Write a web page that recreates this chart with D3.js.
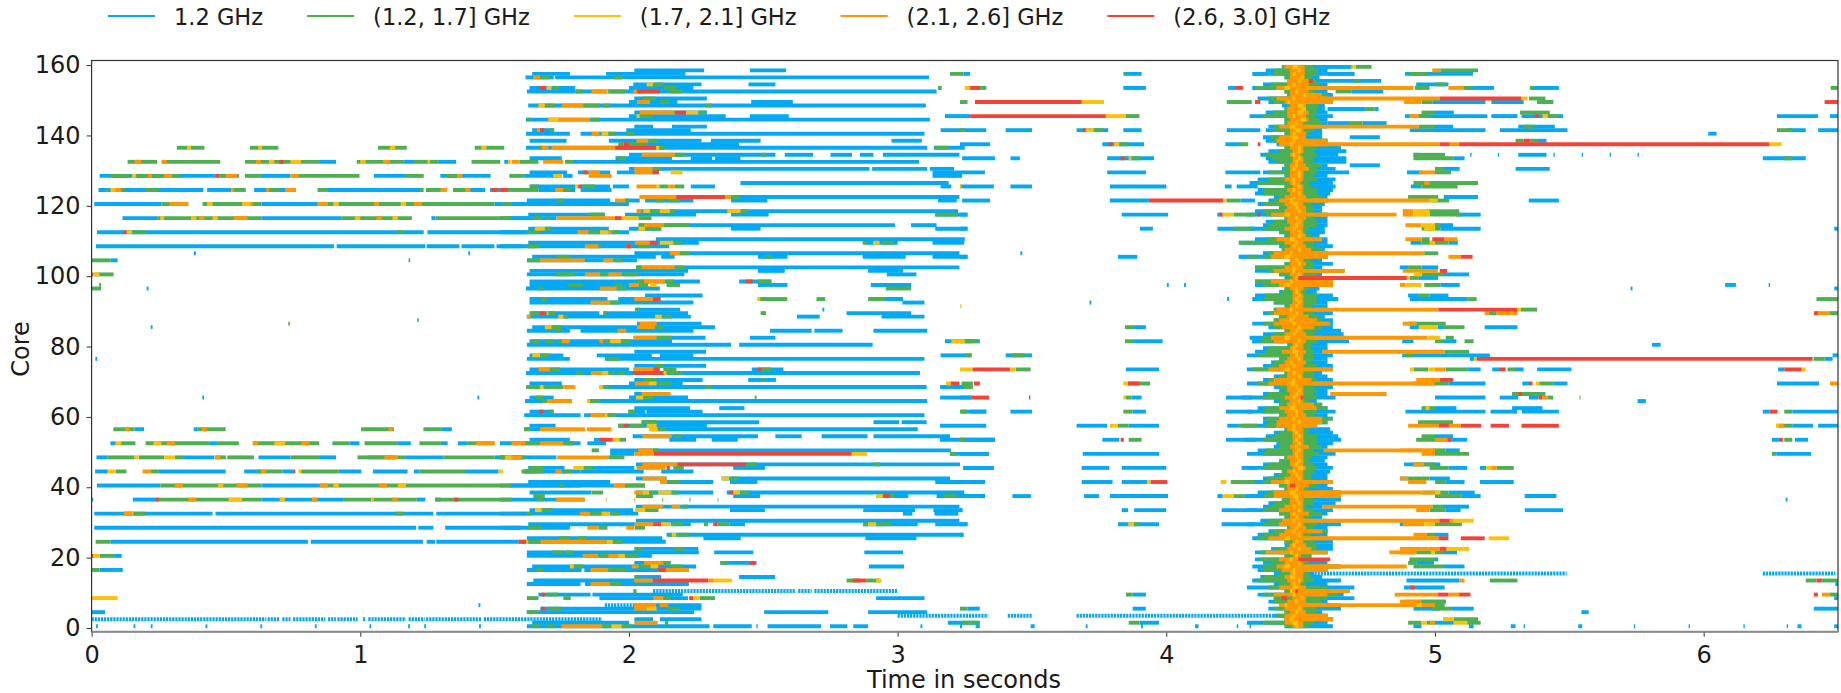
<!DOCTYPE html>
<html>
<head>
<meta charset="utf-8">
<script src="https://cdnjs.cloudflare.com/ajax/libs/d3/7.8.5/d3.min.js"></script>
<style>
  html, body { margin: 0; background: #fff; }
  text { font-family: "DejaVu Sans", sans-serif; fill: #1a1a1a; }
</style>
</head>
<body>
<div id="chart"></div>
<script>
var legendLabels = ["1.2 GHz", "(1.2, 1.7] GHz", "(1.7, 2.1] GHz", "(2.1, 2.6] GHz", "(2.6, 3.0] GHz"],
    bandColors = ["#03A9F4", "#4CAF50", "#FFC107", "#FF9800", "#F44336"],
    xTicks = [0, 1, 2, 3, 4, 5, 6],
    yTicks = [0, 20, 40, 60, 80, 100, 120, 140, 160];

// every span is [core, start second, end second]
var blueSpans = [
  [132,.85,.91],[132,1.16,1.2],[132,1.29,1.357],[132,1.536,1.558],
  [128,.03,.46],[128,.63,.74],[128,1.051,1.17],[128,1.298,1.485],[128,1.61,1.75],[128,1.755,1.79],
  [124,.026,.416],[124,.43,.52],[124,.605,.76],[124,.88,1.235],[124,1.245,1.26],[124,1.345,1.465],[124,1.483,1.52],
  [120,.01,.261],[120,.633,.846],[120,1.5,1.6],
  [116,.115,.244],[116,.633,.931],[116,1.265,1.28],[116,1.55,1.63],
  [112,.02,1.236],[112,1.25,1.62],
  [108,.016,.902],[108,.912,1.242],[108,1.247,1.369],[108,1.377,1.499],[108,1.507,1.6],
  [104,.07,.097],[28,1.316,1.6],[24,.07,.805],[24,.816,1.233],[24,1.247,1.278],[24,1.283,1.59],
  [106,.381,.388],[106,1.402,1.409],[96,.205,.212],[85,.22,.227],[76,.014,.021],[65,.412,.419],[65,1.436,1.443],[6,1.44,1.447],
  [56,.16,.195],[56,.38,.395],[56,1.3,1.341],
  [52,.07,.09],[52,.44,.47],[52,.96,.997],[52,1.14,1.188],[52,1.3,1.325],[52,1.363,1.4],
  [48,.018,.06],[48,.34,.457],[48,.621,.74],[48,.85,.91],[48,1.09,1.125],[48,1.17,1.31],[48,1.5,1.55],[48,1.6,1.65],
  [44,.013,.06],[44,.25,.499],[44,.568,.63],[44,.71,.75],[44,.92,1.004],[44,1.047,1.176],[44,1.2,1.22],[44,1.39,1.515],
  [40,.02,.256],[40,.633,.846],[40,1.55,1.82],
  [36,.153,.24],[36,0,.006],[36,.633,.936],[36,1.21,1.242],[36,1.279,1.3],[36,1.55,1.836],
  [32,.01,.45],[32,.461,1.272],[32,1.283,1.62],
  [28,.01,1.208],[28,1.216,1.272],
  [20,.08,.112],[16,.03,.116],[4,0,.05],
  [0,.016,.023],[0,.156,.163],[0,.22,.227],[0,.424,.431],[0,.628,.635],[0,.831,.838],[0,1.034,1.041],[0,1.178,1.185],[0,1.238,1.245],[0,1.442,1.449],
  [158,2.02,2.28],[158,2.45,2.585],[157,1.64,1.78],[157,1.915,2.21],[156,1.615,1.72],[156,1.725,3.117],
  [154,2.016,2.27],[154,2.445,2.545],[153,1.63,1.8],[153,2,2.24],[152,1.62,1.8],[152,1.8,3.145],
  [150,2.02,2.29],[149,2,2.18],[149,2.455,2.61],[148,1.625,3.105],[146,2.02,2.29],[145,2,2.36],[145,2.45,2.595],[144,1.617,3.12],
  [142,2.02,2.09],[142,2.16,2.29],[141,1.64,1.72],[141,1.99,2.23],[140,1.617,1.78],[140,1.82,3.1],
  [138,1.63,1.768],[138,1.925,2.27],[138,2.305,2.49],[138,2.977,3.09],[137,1.99,2.41],[136,1.617,3.11],[136,3.135,3.25],
  [134,2,2.545],[134,2.58,2.685],[134,2.75,2.83],[134,2.86,2.91],[134,2.945,3.23],[133,1.63,1.75],[133,1.95,2.16],[133,2.23,2.31],[133,2.32,2.415],[133,3.24,3.362],
  [132,1.79,3.08],[130,2,2.895],[130,2.905,3.11],[130,3.12,3.21],[129,1.63,1.77],[129,1.81,1.93],[129,1.955,2.1],[129,3.13,3.325],[128,3.13,3.24],
  [126,2.415,3.19],[125,1.63,1.8],[125,1.82,1.93],[125,1.94,2],[125,2.23,2.32],[125,3.16,3.2],[125,3.24,3.358],[124,1.663,1.8],[124,1.82,1.935],
  [122,2.04,3.23],[121,1.62,1.93],[121,1.985,2.04],[121,2.06,2.24],[121,2.38,2.515],[121,3.15,3.22],[121,3.24,3.344],[120,1.56,2],
  [118,2.03,3.225],[117,1.985,2.25],[117,1.625,1.91],[117,2.38,2.52],[117,3.14,3.26],[116,1.56,1.73],[114,2.04,2.99],[114,3.05,3.145],
  [113,1.625,1.925],[113,2,2.12],[113,2.38,2.49],[113,3.14,3.26],[112,1.52,2],[110,2.1,3.25],[109,1.625,2.26],[109,2.878,3],[109,3.13,3.247],[108,1.52,2.15],
  [106,2.02,3.23],[105,1.64,2.1],[105,2.12,2.17],[105,2.48,2.59],[105,2.87,3.03],[105,3.13,3.26],[104,1.62,2.03],
  [102,2.03,3.23],[101,1.63,2.22],[101,2.48,2.58],[101,2.89,3.02],[100,1.62,2.206],[100,2.96,3.07],[98,1.63,2.264],[98,2.41,2.53],[97,1.63,2],[97,2.48,2.59],[97,2.9,3.05],[96,1.617,2.115],
  [94,2.06,2.274],[93,1.63,1.92],[93,1.96,2.1],[93,2.895,3.02],[92,1.63,2.24],[92,3.018,3.1],[90,2.03,2.19],[90,2.72,2.727],[89,1.64,1.89],[89,1.905,2.22],[89,2.81,3.05],
  [88,1.62,2.23],[88,2.625,2.71],[88,2.94,3.1],[86,2.03,2.27],[85,1.64,2.32],[84,1.62,1.78],[84,1.82,2.24],[84,2.525,2.68],[84,2.69,2.795],[84,2.91,3.11],[82,2.02,2.285],[82,2.45,2.545],
  [81,1.63,2.16],[81,3.176,3.306],[80,1.62,2.38],[80,2.41,2.907],[78,2.02,2.287],[77,1.63,1.756],[77,1.88,2.085],[77,2.115,2.24],[77,3.16,3.275],[76,1.62,1.78],[76,1.91,3.1],
  [74,2.02,2.287],[73,1.63,2],[73,2.457,2.575],[72,1.617,3.083],[70,2.02,2.274],[70,2.444,2.547],[69,1.63,1.75],[69,2,2.2],[68,1.89,3.108],[68,3.158,3.26],
  [66,2.02,2.15],[65,1.63,1.72],[65,2,2.22],[65,3.158,3.275],[64,1.613,1.787],[64,1.845,3.11],[62,2.02,2.227],[62,2.336,2.43],[61,1.63,1.72],[61,2,2.06],[61,2.065,2.274],[61,3.236,3.33],[60,1.61,1.82],[60,1.833,3.1],
  [58,2.047,2.485],[58,2.91,3.005],[58,3.015,3.108],[57,1.63,1.727],[57,1.96,2.29],[57,3.158,3.33],[56,1.61,1.68],[56,2.08,3.075],[54,2.014,2.48],[54,2.545,2.643],[54,2.717,2.888],[54,2.91,3.195],
  [53,1.63,1.78],[53,1.87,1.917],[53,2.15,2.25],[53,2.308,2.405],[53,3.158,3.362],[52,1.52,1.82],[52,1.845,1.915],[50,1.93,3.198],[49,1.93,2.02],[49,3.195,3.34],[48,1.65,1.73],[48,1.52,1.6],
  [46,2.026,3.232],[45,1.625,1.76],[45,1.86,2.02],[45,2.388,2.506],[45,3.245,3.358],[44,1.61,1.82],[44,1.82,2.055],[44,2.12,2.24],[42,2.026,2.14],[42,2.345,3.195],[41,1.625,1.93],[41,2.14,2.314],[41,2.376,2.478],[41,3.14,3.325],[40,1.56,2.06],
  [38,1.63,1.86],[38,2.026,2.314],[38,2.364,3.248],[37,2.388,2.488],[37,2.92,3.04],[37,3.145,3.325],[34,2.026,3.23],[33,1.63,2.016],[33,2.376,2.506],[33,2.872,3.065],[33,3.133,3.24],[32,1.52,2.035],[32,3.02,3.055],[32,3.137,3.226],
  [30,2.026,3.23],[29,1.625,2.022],[29,2.165,2.23],[29,2.375,2.432],[29,2.872,3.075],[29,3.14,3.26],[28,1.52,1.78],[26,2.14,3.245],[25,1.62,2.124],[25,2.277,2.416],[25,2.88,3.07],[24,1.59,2.137],
  [22,2.02,2.258],[21,1.62,2.26],[21,2.317,2.463],[21,2.876,3.02],[20,1.62,2.085],[18,2.02,2.155],[18,2.34,2.475],[17,1.64,2.25],[17,2.893,3.024],[16,1.62,1.824],[16,1.834,2.223],
  [14,2.02,2.12],[14,2.41,2.544],[13,1.644,2.02],[12,1.62,1.82],[12,1.836,2.223],[9,1.663,1.857],[9,1.864,2.2],[8,1.89,2.22],[8,2.92,3.1],[6,2.02,2.27],[5,1.67,2.27],[4,1.62,2.243],[4,2.503,2.742],[4,2.89,3.11],
  [2,2.02,2.09],[2,2.115,2.27],[1,1.64,2],[1,3.187,3.306],[0,1.62,2.3],[0,2.314,2.457],[0,2.474,2.479],[0,2.516,2.715],[0,2.748,2.813],[0,2.835,2.89],[0,3.085,3.092],[0,3.232,3.24],[0,3.29,3.306],[0,3.495,3.51],[0,3.7,3.707],[0,3.906,3.913],[0,4.107,4.12],[0,4.262,4.268],[0,4.31,4.316],
  [157,3.245,3.27],[157,3.85,3.908],[157,4.324,4.373],[153,3.84,3.924],[153,4.23,4.256],[145,3.176,3.27],[141,3.16,3.33],[141,3.402,3.5],[141,3.666,3.784],[141,3.84,3.908],[141,4.225,4.35],
  [137,3.232,3.344],[137,3.762,3.917],[137,4.22,4.28],[133,3.42,3.455],[133,3.78,3.954],[129,3.78,3.924],[129,4.22,4.35],[125,3.42,3.5],[125,3.79,4],[125,4.218,4.243],[125,4.262,4.34],
  [121,3.79,3.935],[121,4.276,4.33],[117,3.232,3.26],[117,3.834,4.007],[117,4.19,4.206],[113,3.232,3.26],[113,3.902,3.95],[113,4.19,4.33],[105,3.232,3.26],[105,3.82,3.892],[105,4.27,4.34],
  [106,3.457,3.464],[97,4.002,4.009],[97,4.066,4.073],[93,4.226,4.233],[92,3.714,3.721],[85,3.88,3.924],[81,3.88,3.986],[81,4.32,4.35],
  [77,3.402,3.5],[73,3.85,3.973],[65,3.232,3.275],[65,3.87,3.908],[65,4.222,4.318],[61,3.27,3.33],[61,3.42,3.5],[61,3.875,3.924],[61,4.222,4.32],[57,3.666,3.78],[57,3.86,3.973],[57,4.227,4.27],
  [53,3.232,3.362],[53,3.762,3.825],[53,4.222,4.33],[49,3.232,3.34],[49,3.689,3.973],[45,3.244,3.358],[45,3.685,3.788],[45,3.834,4],[45,4.28,4.34],[41,3.232,3.325],[41,3.685,3.8],[41,3.834,3.93],
  [37,3.232,3.325],[37,3.427,3.496],[37,3.694,3.75],[37,3.79,4.007],[37,4.19,4.21],[37,4.29,4.34],[33,3.232,3.242],[33,3.834,3.858],[33,3.88,4],[33,4.206,4.34],[29,3.232,3.26],[29,3.82,3.973],[29,4.206,4.33],[26,3.232,3.245],
  [5,3.26,3.306],[5,3.875,3.924],[9,3.875,3.924],[1,3.9,3.973],
  [159,4.55,4.69],[157,4.6,4.7],[155,4.62,4.8],[152,4.69,4.807],[147,4.6,4.74],[147,4.775,4.79],[143,4.6,4.68],[143,4.73,4.82],[139,4.683,4.795],[131,4.683,4.795],
  [157,4.888,5.142],[154,4.93,5.05],[153,5.117,5.22],[153,5.36,5.461],[149,4.99,5.188],[149,5.21,5.33],[149,5.4,5.44],[146,5,5.07],[145,4.888,5.195],[145,5.21,5.307],[145,5.322,5.477],[145,6.273,6.426],[145,6.47,6.5],
  [142,5,5.067],[142,5.31,5.446],[141,4.906,5.188],[141,5.241,5.493],[141,6.31,6.38],[141,6.426,6.5],[140,6.017,6.048],[138,5.38,5.415],[134,4.92,4.94],[134,5.131,5.136],[134,5.234,5.239],[134,5.441,5.446],[134,5.546,5.551],[134,5.65,5.655],[134,5.754,5.759],[134,5.31,5.415],
  [133,5.07,5.11],[133,6.22,6.38],[130,5.03,5.092],[130,5.3,5.427],[129,4.896,4.95],[125,4.91,4.95],[122,5.033,5.16],[121,5.349,5.461],[117,5.08,5.17],[114,5,5.067],[113,5.02,5.17],[113,6.486,6.5],[109,4.909,4.95],[109,5.05,5.085],
  [102,4.869,4.9],[102,4.95,5.012],[100,5.03,5.127],[99,4.94,5.012],[97,5.02,5.092],[97,6.08,6.12],[97,6.242,6.247],[96,5.728,5.735],[96,6.486,6.5],[94,4.9,4.94],[94,4.98,5.05],[93,4.906,5.12],[86,4.9,4.93],[85,4.906,4.94],[85,5.01,5.03],[85,5.185,5.307],[81,4.878,4.92],[81,5.03,5.08],[80,5.808,5.84],
  [77,4.878,5.204],[76,5.13,5.145],[76,6.45,6.48],[77,6.48,6.5],[73,5.12,5.17],[73,5.213,5.238],[73,5.3,5.33],[73,5.38,5.508],[73,6.277,6.3],[69,5.05,5.188],[69,5.325,5.35],[69,5.44,5.493],[69,6.273,6.43],[65,5,5.188],[65,5.241,5.31],[65,5.35,5.385],[64,5.754,5.785],[62,5,5.08],[62,5.287,5.4],
  [61,4.89,5.188],[61,5.207,5.306],[61,5.323,5.461],[61,6.22,6.245],[61,6.33,6.5],[57,6.33,6.407],[57,6.426,6.5],[54,5,5.067],[53,5.06,5.12],[53,6.254,6.28],[53,6.34,6.389],[50,5.04,5.092],[49,6.27,6.4],[46,4.885,5.02],[45,5.167,5.19],
  [45,5.05,5.12],[42,4.869,4.9],[42,4.98,5.055],[41,5.04,5.11],[41,5.167,5.293],[38,5.05,5.148],[37,5.1,5.17],[37,5.334,5.452],[36,6.305,6.312],[34,5.03,5.127],[33,5.04,5.095],[33,5.334,5.477],[29,4.869,4.9],[26,5,5.05],
  [21,5.03,5.082],[19,5,5.012],[18,4.93,4.996],[17,5.03,5.11],[13,4.894,5.09],[12,6.49,6.5],[11,4.885,5.036],[8,6.486,6.5],[7,4.885,5.04],[5,4.92,5.02],[5,5.06,5.144],[5,6.41,6.5],[4,5.545,5.572],[1,5.0,5.07],
  [0,4.92,4.95],[0,5.126,5.144],[0,5.282,5.3],[0,5.33,5.335],[0,5.533,5.548],[0,5.74,5.745],[0,5.944,5.949],[0,6.148,6.153],[0,6.309,6.314],[0,6.349,6.364],[0,6.486,6.5]
];

var greenSpans = [
  [136,.317,.42],[136,.589,.695],[136,1.066,1.173],[136,1.426,1.536],
  [132,.134,.244],[132,.261,.479],[132,.571,.85],[132,.987,1.16],[132,1.2,1.29],[132,1.414,1.521],[132,1.594,1.663],[132,1.762,1.793],
  [128,.07,.14],[128,.165,.21],[128,.225,.27],[128,.3,.33],[128,.475,.548],[128,.571,.63],[128,.75,.997],[128,1.17,1.236],[128,1.32,1.36],[128,1.555,1.61],
  [124,.05,.06],[124,.11,.125],[124,.2,.25],[124,.53,.574],[124,.66,.70],[124,.841,.88],[124,1.22,1.235],[124,1.245,1.3],[124,1.345,1.39],[124,1.547,1.663],[124,1.756,1.784],
  [120,.261,.36],[120,.413,.633],[120,.846,1.5],[116,.244,.633],[116,.931,1.192],[116,1.28,1.55],[112,.15,.2],[112,1.137,1.16],[108,1.62,1.65],
  [104,0,.07],[100,.012,.082],[96,0,.035],[97,.028,.035],[104,1.18,1.186],[86,.732,.738],[87,1.212,1.218],
  [56,.081,.16],[56,.395,.499],[56,1.003,1.125],[56,1.235,1.3],[52,.11,.163],[52,.201,.44],[52,.47,.548],[52,.6,.847],[52,.896,.96],[52,1.016,1.14],[52,1.22,1.3],[52,1.4,1.5],
  [48,.06,.16],[48,.175,.27],[48,.31,.34],[48,.46,.5],[48,.505,.604],[48,.74,.85],[48,.99,1.09],[48,1.03,1.17],[48,1.31,1.5],[48,1.55,1.6],
  [44,.09,.13],[44,.22,.25],[44,.62,.71],[44,.78,.92],[44,1.22,1.39],[44,1.6,1.65],
  [40,.256,.633],[40,.846,1.55],[36,.24,.633],[36,.936,1.21],[36,1.279,1.55],[32,.12,.2],[32,1.13,1.16],[24,.015,.07],[20,.03,.08],[16,0,.03],
  [156,1.669,1.706],[156,1.944,1.976],[153,1.718,1.741],[153,2.128,2.177],[152,1.803,1.828],[152,1.923,1.985],[152,2.15,2.2],[154,2.093,2.128],[150,2.05,2.1],[149,2.115,2.152],
  [148,1.687,1.725],[148,1.83,1.892],[148,1.904,1.929],[148,2.286,2.309],[146,2.26,2.285],[145,2.04,2.09],[144,1.62,1.632],[144,1.857,1.892],[141,1.706,1.722],[140,1.923,1.948],[140,1.99,2.02],
  [138,2.078,2.107],[137,1.96,1.98],[137,2,2.066],[136,1.663,1.675],[136,2.113,2.134],[134,2.171,2.208],[134,2.493,2.508],[133,1.956,1.989],[130,2.09,2.12],
  [125,1.632,1.663],[125,1.828,1.873],[125,2.113,2.146],[125,2.171,2.206],[122,2.38,2.413],[121,1.731,1.756],[121,1.985,2.0],[121,2.1,2.13],[121,2.146,2.19],[120,1.53,1.563],
  [118,2.078,2.115],[118,2.152,2.171],[118,2.415,2.44],[117,1.855,1.91],[117,3.14,3.225],[116,1.52,1.563],[116,1.644,1.675],[116,1.694,1.706],[116,2.035,2.084],[114,2.035,2.054],[114,2.13,2.227],
  [113,1.687,1.712],[113,2.06,2.12],[112,1.625,1.67],[112,1.85,1.892],[112,1.935,1.966],[109,2.165,2.2],[109,2.87,2.89],[109,2.94,2.987],[108,1.625,1.67],[108,1.85,1.9],[108,2.035,2.078],
  [106,2.19,2.227],[105,1.731,1.78],[105,2.506,2.53],[104,1.622,1.67],[104,1.948,1.978],[102,2.026,2.047],[102,2.171,2.208],[100,1.725,1.8],[100,1.892,1.923],[100,1.98,2.035],
  [98,2.028,2.053],[98,2.14,2.165],[98,2.481,2.53],[97,1.774,1.83],[97,1.948,1.973],[97,2.035,2.072],[97,2.14,2.19],[96,1.663,1.681],[96,1.955,1.99],[96,2.956,3.05],
  [93,1.675,1.694],[93,2.48,2.589],[93,2.698,2.73],[93,2.89,2.953],[92,1.93,1.966],[90,2.022,2.04],[89,1.63,1.663],[89,1.694,1.725],[89,1.905,1.917],[89,2.49,2.51],
  [88,1.756,1.774],[88,2.128,2.16],[85,1.712,1.75],[85,2.103,2.128],[84,1.725,1.75],[82,2.103,2.16],[81,1.638,1.669],[81,1.687,1.718],[81,1.737,1.75],[81,1.91,1.93],[81,1.97,2.005],[81,3.25,3.3],
  [77,1.669,1.706],[76,1.914,1.966],[74,2.097,2.128],[73,1.706,1.743],[73,2.128,2.177],[73,2.493,2.53],[72,1.8,1.83],[72,1.923,1.948],[72,1.96,1.985],[72,2.14,2.2],[70,2.053,2.103],[70,2.493,2.506],
  [69,2.11,2.16],[68,1.617,1.669],[68,1.681,1.756],[68,1.91,1.926],[68,2.286,2.309],[68,3.244,3.28],[65,1.654,1.681],[65,2.053,2.09],[65,2.468,2.475],[64,1.675,1.696],[64,1.855,1.892],
  [61,1.702,1.718],[61,1.997,2.022],[60,1.92,1.954],[58,2.047,2.103],[57,1.96,1.981],[57,2.004,2.053],[56,1.61,1.632],[56,2.107,2.134],[54,2.171,2.196],[53,1.964,1.989],[53,3.232,3.25],
  [52,1.613,1.669],[52,1.768,1.793],[52,1.75,1.793],[50,1.861,1.888],[50,2.09,2.11],[49,3.194,3.218],[48,1.52,1.539],[48,1.563,1.613],[48,1.923,1.983],
  [46,2.43,2.476],[46,2.911,2.936],[45,1.83,1.867],[45,2.165,2.204],[45,1.63,1.68],[44,1.607,1.681],[44,1.756,1.787],[42,2.38,2.407],[41,2.14,2.19],[40,1.52,1.563],[40,1.743,1.756],[40,1.985,2.06],
  [38,1.861,1.904],[38,2.078,2.103],[38,2.158,2.184],[38,2.413,2.447],[37,1.644,1.687],[37,2.026,2.09],[37,2.96,2.99],[37,3.17,3.22],[36,1.52,1.563],[36,1.663,1.681],[36,2.123,2.126],[36,2.225,2.229],[36,2.33,2.333],
  [34,2.196,2.22],[33,1.675,1.712],[33,2.06,2.11],[32,1.62,1.638],[32,1.855,1.898],[32,1.936,1.964],[29,2.155,2.202],[29,2.279,2.295],[29,2.33,2.375],[29,2.872,2.89],[29,2.92,2.977],
  [28,1.625,1.675],[28,1.886,1.92],[28,2.022,2.06],[26,2.152,2.16],[26,2.175,2.224],[25,1.74,1.78],[25,1.81,1.843],[24,1.625,1.671],[24,1.94,1.976],[22,2.022,2.047],[22,2.17,2.205],[21,1.716,1.756],[21,1.766,1.793],
  [20,1.89,1.923],[20,1.99,2.035],[18,2.13,2.155],[18,2.34,2.367],[17,1.795,1.83],[17,2.035,2.078],[17,2.158,2.196],[16,1.656,1.681],[16,1.923,1.99],[14,2.022,2.03],[13,2.02,2.03],[13,2.81,2.86],[13,2.884,2.934],[12,1.93,1.97],
  [10,2.016,2.028],[9,1.694,1.737],[8,1.62,1.663],[8,1.756,1.783],[8,2.128,2.155],[8,2.264,2.32],[5,1.7,1.75],[5,2.146,2.186],[4,1.62,1.663],[1,2.134,2.146],[0,1.638,1.671],[0,1.694,1.725],[0,1.9,1.936],[0,1.973,2.01],
  [157,3.195,3.245],[157,3.84,3.85],[153,3.15,3.164],[153,3.3,3.33],[149,3.232,3.26],[149,4.225,4.318],[145,3.85,3.9],[141,3.232,3.25],[141,3.73,3.765],[137,3.825,3.86],[137,4.27,4.305],[136,3.14,3.19],
  [133,3.87,3.905],[125,3.232,3.24],[121,4.224,4.276],[117,4.25,4.33],[113,4.25,4.32],[109,4.27,4.34],[105,4.3,4.34],[85,3.846,3.88],[81,3.846,3.88],[81,3.232,3.275],
  [77,3.255,3.275],[77,3.425,3.474],[73,3.44,3.495],[69,3.238,3.28],[69,3.858,3.94],[65,3.85,3.87],[61,3.232,3.258],[61,3.84,3.875],[57,3.82,3.86],[57,4.27,4.34],[53,3.86,3.908],[41,4.24,4.33],[37,4.25,4.29],[29,3.88,3.9],
  [9,3.85,3.875],[5,3.232,3.26],[1,3.24,3.3],[1,3.86,3.9],
  [159,4.705,4.764],[155,4.7,4.72],[152,4.63,4.69],[147,4.74,4.775],[143,4.68,4.73],
  [158,5.02,5.16],[157,4.905,4.974],[154,5,5.04],[153,4.925,4.98],[153,5.105,5.14],[153,5.353,5.365],[153,6.473,6.5],[149,4.95,4.99],[150,5.35,5.411],[149,5.38,5.44],[146,4.95,5],[146,5.316,5.427],[145,4.94,4.98],[145,5.42,5.46],[142,4.94,5],[142,5.33,5.37],[141,6.273,6.33],
  [138,5.3,5.33],[138,5.355,5.38],[134,4.92,5.037],[133,4.92,5.07],[133,6.3,6.33],[130,5,5.03],[129,5,5.06],[126,4.92,5.16],[125,4.95,5.084],[122,4.9,5.012],[121,4.98,5.053],[118,4.95,5.09],[117,4.98,5.1],
  [114,5,5.02],[113,4.95,5.02],[110,4.95,4.98],[109,4.95,5.05],[106,4.96,5.012],[102,4.9,4.95],[100,4.95,5.03],[99,4.905,4.94],[97,4.96,5.02],[94,4.94,4.98],[93,5.12,5.155],[93,6.42,6.5],[90,5.32,5.38],[89,5.2,5.23],[89,6.47,6.5],[86,4.93,5.04],[85,5.03,5.11],[82,5.04,5.07],[81,5,5.03],[81,5.11,5.144],
  [78,5.036,5.127],[77,4.888,4.92],[76,6.41,6.45],[73,4.92,4.975],[73,5.04,5.12],[73,5.27,5.303],[69,4.92,5.05],[69,5.388,5.44],[66,5.287,5.411],[65,5.42,5.44],[65,5.538,5.542],[62,4.95,5],[61,6.3,6.33],[58,4.937,5.067],[57,6.28,6.33],[54,4.95,5.0],[53,4.93,5.06],[53,6.3,6.33],[50,4.993,5.04],[49,5,5.127],[49,6.254,6.27],[46,4.92,5],[45,5.23,5.293],[45,4.98,5.05],
  [42,4.9,4.98],[41,5,5.04],[38,4.95,5.05],[37,5,5.1],[34,4.99,5.03],[33,4.98,5.04],[29,5,5.1],[26,4.97,5],[21,4.93,5.03],[19,4.905,5],[18,4.9,4.93],[17,4.92,5.03],[13,5.204,5.307],[13,6.38,6.42],[13,6.44,6.5],[9,6.47,6.5],[7,4.95,5.04],[6,4.95,5.036],[5,4.99,5.06],[2,5.07,5.16],[1,4.9,4.95],[1,4.97,5.0],[1,5.12,5.17]
];

var yellowSpans = [
  [136,.355,.37],[136,.62,.635],[136,1.11,1.13],[136,1.45,1.47],[132,.66,.68],[132,.74,.78],[132,1.0,1.02],[132,1.25,1.26],[128,.15,.165],[124,.07,.09],[120,.43,.45],[120,.56,.59],[120,.9,.92],[120,1.15,1.17],
  [116,.255,.27],[116,.37,.39],[116,.45,.47],[116,.98,1.0],[116,1.12,1.14],[112,.13,.15],[100,.006,.03],[8,0,.097],[20,.006,.03],[52,.09,.11],[52,.23,.26],[52,.68,.72],[48,.16,.175],[48,.27,.31],[44,.06,.09],[44,.77,.78],[44,1.515,1.531],
  [40,.47,.49],[40,.9,.92],[40,1.14,1.17],[36,.51,.56],[36,.7,.72],[36,1.04,1.05],[32,.15,.155],[132,1.55,1.56],[148,1.663,1.687],[152,1.917,1.923],[153,1.694,1.712],[154,2.066,2.09],[146,2.212,2.258],[145,2.028,2.04],[144,1.7,1.737],[140,1.898,1.923],
  [136,2.1,2.113],[129,2.155,2.2],[128,1.718,1.75],[125,1.799,1.812],[125,2.103,2.113],[118,2.053,2.078],[118,2.115,2.152],[118,2.366,2.415],[116,1.973,2.035],[113,1.65,1.687],[113,2.035,2.06],[112,1.892,1.923],[109,2.115,2.165],[109,2.908,2.933],[97,2.078,2.103],[93,2.477,2.489],[89,1.694,1.7],[88,1.737,1.756],[88,2.097,2.122],[85,1.687,1.712],[81,1.93,1.97],
  [77,1.64,1.669],[72,1.898,1.923],[72,2.128,2.14],[69,2.073,2.103],[68,1.669,1.681],[68,1.89,1.904],[65,2.026,2.053],[64,1.845,1.855],[60,1.91,1.92],[57,2.066,2.103],[56,2.074,2.107],[53,1.939,1.964],[49,2.829,2.887],[48,1.539,1.563],[45,1.793,1.83],[42,2.345,2.373],
  [38,2.05,2.075],[38,2.109,2.158],[38,2.388,2.413],[37,2.92,2.945],[33,1.65,1.675],[33,2.022,2.06],[32,1.898,1.93],[29,2.12,2.153],[29,2.89,2.92],[26,2.16,2.175],[24,1.617,1.625],[24,1.917,1.94],[20,1.96,1.985],[17,1.78,1.795],[17,2.08,2.109],[13,2.316,2.383],[13,2.92,2.94],[8,2.242,2.264],[5,2.066,2.103],[0,1.935,1.973],
  [149,3.685,3.768],[145,3.775,3.85],[153,3.25,3.3],[141,3.69,3.73],[137,3.805,3.825],[133,3.86,3.87],[125,3.232,3.236],[121,4.212,4.224],[117,4.21,4.25],[91,3.233,3.238],[73,3.232,3.279],[73,3.418,3.44],[69,3.84,3.858],[69,3.18,3.2],[65,3.84,3.85],[57,3.79,3.82],[41,3.93,3.942],[41,4.202,4.224],[37,4.21,4.25],[29,3.858,3.88],[81,3.2,3.25],
  [159,4.69,4.705],[150,5.322,5.345],[145,5.372,5.38],[145,5.4,5.42],[137,6.244,6.29],[121,4.98,5.01],[113,4.96,5],[118,4.92,4.98],[117,4.92,4.98],[114,4.95,5],[109,4.98,5],[100,4.92,4.95],[99,4.895,4.905],[97,4.89,4.95],[90,5.306,5.32],[85,4.94,5.01],[82,4.97,5.02],[76,5.145,5.155],[76,6.405,6.41],[73,4.906,4.92],[73,4.975,5.0],[69,5.375,5.388],[62,4.965,4.98],[45,5.19,5.21],[38,5,5.02],[30,5.07,5.144],[29,4.96,5],[25,5.2,5.276],[22,5.04,5.127],[21,4.985,5],[6,4.93,4.95],[2,5.03,5.07],[1,4.95,4.97],[1,5.07,5.12],[57,6.27,6.28],[73,6.365,6.38]
];

var orangeSpans = [
  [132,.16,.185],[132,.261,.28],[132,.612,.63],[132,1.085,1.11],[128,.21,.225],[128,.27,.3],[128,.5,.54],[128,.74,.77],[128,1.36,1.38],[124,.09,.11],[124,.52,.53],[124,.65,.66],[124,.72,.76],[124,1.3,1.323],[124,1.39,1.41],
  [120,.29,.36],[120,.57,.6],[120,.84,.88],[120,1.05,1.07],[120,1.2,1.23],[116,.4,.42],[116,.53,.58],[116,1.06,1.08],[56,.125,.14],[56,.41,.43],[56,1.105,1.12],[52,.28,.31],[52,.6,.62],[52,.78,.81],[52,1.43,1.5],[48,.46,.48],[48,1.09,1.14],[48,1.55,1.6],[44,.19,.22],[44,.63,.65],[40,.31,.34],[40,.54,.58],[40,.85,.88],[40,1.07,1.1],[36,.36,.39],[36,.82,.84],[36,1.12,1.14],[32,.12,.155],
  [132,1.563,1.594],[132,1.68,1.755],[156,1.644,1.669],[152,1.861,1.92],[152,2.016,2.03],[149,2.03,2.078],[148,1.75,1.83],[146,2.04,2.17],[144,1.7,1.855],[141,1.657,1.669],[140,1.861,1.89],[138,2.028,2.072],[136,1.675,1.7],[136,1.712,1.948],[134,2.047,2.171],
  [130,2.02,2.088],[129,1.85,1.892],[129,2.02,2.088],[128,1.85,1.935],[125,2.028,2.103],[125,2.146,2.171],[124,1.725,1.756],[122,2.04,2.177],[122,2.357,2.38],[121,1.948,1.985],[118,2.028,2.047],[116,1.731,1.948],[114,2.056,2.13],[112,1.808,1.85],[112,1.923,1.935],[109,2.022,2.078],[108,1.836,1.886],[108,1.99,2.01],
  [106,2.152,2.19],[104,1.669,1.836],[104,1.904,1.942],[102,2.047,2.17],[100,1.836,1.892],[100,1.923,1.973],[98,2.056,2.134],[97,2.0,2.035],[96,1.892,1.954],[93,2.02,2.09],[92,1.857,1.93],[88,1.62,1.634],[86,2.04,2.103],[85,2.03,2.097],[84,1.957,1.99],[82,2.016,2.103],[81,1.75,1.78],[81,1.89,1.904],
  [73,1.663,1.706],[73,2.016,2.09],[72,1.858,1.898],[69,2.022,2.073],[68,1.756,1.8],[66,2.047,2.155],[64,1.696,1.787],[60,1.857,1.91],[56,1.669,1.836],[56,1.843,1.935],[54,2.05,2.159],[52,1.563,1.613],[52,1.669,1.756],[50,2.035,2.09],[49,2.02,2.093],[48,1.733,1.923],
  [46,2.05,2.181],[45,2.028,2.134],[44,1.725,1.75],[42,2.05,2.137],[41,2.115,2.14],[40,1.942,1.985],[38,2.02,2.05],[36,1.728,1.836],[36,1.914,1.917],[36,2.02,2.023],[34,2.05,2.128],[34,2.159,2.19],[32,1.818,1.855],[29,2.022,2.09],[28,1.845,1.886],[28,1.99,2.02],[24,1.671,1.917],[20,1.828,1.886],[20,1.923,1.96],
  [18,2.056,2.128],[17,2.01,2.035],[16,1.857,1.923],[16,2.136,2.223],[13,2.02,2.088],[13,2.295,2.316],[12,1.857,1.93],[8,2.09,2.128],[6,2.02,2.1],[6,2.115,2.146],[5,2.02,2.066],[1,2.02,2.107],[0,1.749,1.9],
  [153,4.5,4.92],[150,4.5,5.018],[142,4.5,4.94],[137,4.5,5.018],[137,5.055,5.09],[121,4.55,4.98],[117,4.55,4.857],[106,4.55,4.96],[101,4.55,4.665],[97,4.55,4.62],[90,4.55,5.013],[86,4.55,4.61],[82,4.55,4.97],[78,4.58,5.036],[69,4.55,5],[66,4.61,4.82],[50,4.585,5],[41,4.55,4.617],[38,4.55,4.95],[34,4.58,4.99],[30,4.43,5.016],[25,4.55,5.014],[21,4.83,4.93],[22,4.87,5.018],[17,4.55,4.895],[10,4.5,4.684],[9,4.85,5.01],[6,4.5,5],
  [158,4.99,5.02],[153,5.05,5.105],[149,4.885,4.95],[145,4.905,4.94],[129,4.94,5],[126,4.96,4.98],[118,4.88,4.92],[117,4.88,4.92],[114,4.89,4.95],[110,4.89,4.95],[110,5.035,5.084],[105,5.05,5.096],[101,4.88,5.01],[97,4.87,4.89],[89,5.185,5.2],[89,5.23,5.307],[89,6.42,6.47],[86,4.88,4.93],[82,4.97,5],
  [73,5,5.04],[70,4.93,5.018],[69,6.47,6.5],[65,5.4,5.42],[57,4.9,5.014],[57,5.052,5.096],[57,6.27,6.3],[53,5,5.06],[50,4.869,4.993],[49,4.95,5],[46,4.92,4.96],[45,5.21,5.23],[42,4.87,4.9],[41,4.9,4.968],[38,4.95,5],[33,4.93,4.98],[30,5.055,5.07],[29,4.88,4.96],[26,4.92,4.97],[22,5.018,5.04],[21,4.87,4.93],[13,5.09,5.11],[9,5.05,5.09],[9,6.44,6.47],[7,4.87,4.95],[6,4.9,4.93],[2,5.03,5.05],[1,4.98,5]
];

var redSpans = [
  [132,.699,.713],[128,.46,.475],[124,1.53,1.55],[100,0,.006],[20,0,.006],[112,.117,.13],[44,.75,.758],[36,.24,.25],[36,1.35,1.365],[24,1.59,1.6],[124,1.49,1.51],
  [153,1.667,1.691],[152,2.03,2.115],[146,2.173,2.212],[141,1.669,1.685],[137,1.98,2.0],[136,1.95,2.1],[129,1.83,1.845],[129,2.088,2.112],[125,1.811,1.824],[124,1.52,1.535],[122,2.177,2.357],[116,1.948,1.973],[109,2.078,2.105],[108,1.99,2.01],[98,2.434,2.46],[93,2.09,2.118],[89,1.669,1.687],
  [73,2.09,2.115],[72,2.016,2.128],[73,2.481,2.494],[61,1.665,1.681],[57,1.98,1.997],[53,1.89,1.94],[49,2.093,2.829],[46,2.181,2.435],[45,2.14,2.152],[38,2.373,2.388],[37,2.947,2.97],[29,2.09,2.12],[29,2.314,2.33],[24,1.6,1.617],[18,2.448,2.469],[16,2.109,2.136],[13,2.088,2.295],[13,2.832,2.884],[9,1.675,1.687],[8,2.224,2.24],[5,1.673,1.687],
  [149,3.288,3.685],[145,3.27,3.775],[153,3.27,3.306],[153,4.256,4.285],[141,3.69,3.7],[137,3.786,3.8],[133,3.83,3.845],[121,3.935,4.212],[117,4.2,4.21],[73,3.279,3.418],[69,3.198,3.23],[69,3.284,3.306],[69,3.858,3.9],[65,3.275,3.34],[65,3.489,3.494],[53,3.83,3.842],[41,3.942,4.004],[149,4.33,4.35],[137,4.34,4.35],[117,4.34,4.35],
  [155,4.53,4.545],[19,4.491,4.61],[99,4.491,4.895],[65,4.5,4.51],[40,4.46,4.48],[10,4.48,4.49],[8,4.43,4.45],
  [150,5.018,5.322],[137,5.018,5.055],[137,5.09,6.244],[145,5.372,5.385],[138,5.33,5.355],[110,4.99,5.035],[105,5.096,5.14],[101,5.018,5.045],[99,4.869,4.891],[90,5.013,5.306],[89,6.411,6.425],[76,5.155,6.405],[73,5.238,5.263],[73,6.3,6.365],[70,5.018,5.067],[69,5.35,5.363],[66,5.31,5.323],[65,5.385,5.4],[61,6.245,6.275],
  [57,5.014,5.052],[57,5.096,5.172],[57,5.207,5.276],[57,5.322,5.461],[53,5.047,5.06],[53,6.28,6.295],[30,5.016,5.055],[25,5.014,5.05],[25,5.096,5.185],[22,5.018,5.042],[13,6.42,6.44],[11,4.908,4.925],[9,5.01,5.05],[9,5.09,5.132],[9,6.41,6.425],[149,6.45,6.5]
];

// thin on/off polling runs, drawn dashed
var dashedSpans = [
  [2,0,.65],[2,.655,.7],[2,.71,.74],[2,.75,.87],[2,.88,.91],[2,.915,.99],[2,1.01,1.02],[2,1.03,1.17],[2,1.18,1.24],[2,1.245,1.45],[2,1.46,1.9],
  [6,1.91,2.02],[10,2.09,2.62],[10,2.63,2.68],[10,2.69,3.0],[3,3,3.337],[3,3.41,3.5],[3,3.666,4.4],[15,4.54,5.49],[15,6.22,6.49]
];

// central burst, one row per core:
// [core, blue from, green from, orange from, yellow from, yellow to, orange to, green to, blue to]
var burstRows = [
  [159,4.43,4.43,4.44,4.47,4.49,4.515,4.55,4.68],[158,4.37,4.4,4.46,4.49,4.5,4.515,4.565,4.6],[157,4.32,4.4,4.46,4.47,4.48,4.515,4.565,4.7],[156,4.44,4.44,4.46,4.5,4.51,4.515,4.54,4.57],
  [155,4.45,4.45,4.45,4.49,4.5,4.53,4.56,4.62],[154,4.36,4.39,4.45,4.47,4.48,4.53,4.57,4.6],[153,4.32,4.33,4.41,4.44,4.46,4.55,4.55,4.55],[152,4.44,4.44,4.46,4.48,4.49,4.53,4.56,4.6],
  [151,4.45,4.45,4.46,4.51,4.52,4.58,4.6,4.62],[150,4.34,4.38,4.41,4.47,4.48,4.6,4.6,4.6],[149,4.38,4.4,4.44,4.45,4.46,4.62,4.62,4.62],[148,4.43,4.45,4.46,4.49,4.51,4.52,4.57,4.59],
  [147,4.44,4.44,4.45,4.5,4.52,4.52,4.56,4.59],[146,4.37,4.4,4.45,4.49,4.51,4.53,4.56,4.6],[145,4.31,4.36,4.45,4.47,4.48,4.52,4.55,4.62],[144,4.44,4.44,4.46,4.5,4.52,4.53,4.57,4.6],
  [143,4.44,4.44,4.45,4.48,4.49,4.51,4.58,4.6],[142,4.38,4.4,4.42,4.46,4.48,4.55,4.55,4.6],[141,4.37,4.4,4.46,4.48,4.5,4.51,4.55,4.58],[140,4.44,4.44,4.46,4.47,4.48,4.52,4.53,4.58],
  [139,4.36,4.39,4.42,4.47,4.49,4.52,4.52,4.58],[138,4.37,4.4,4.41,4.47,4.48,4.6,4.6,4.6],[137,4.41,4.42,4.42,4.46,4.47,4.6,4.6,4.6],[136,4.44,4.44,4.46,4.49,4.5,4.51,4.56,4.65],
  [135,4.38,4.42,4.47,4.49,4.5,4.51,4.55,4.67],[134,4.35,4.37,4.46,4.47,4.48,4.5,4.56,4.64],[133,4.37,4.39,4.47,4.49,4.5,4.51,4.55,4.67],[132,4.38,4.41,4.47,4.48,4.49,4.51,4.55,4.67],
  [131,4.44,4.44,4.46,4.48,4.49,4.52,4.58,4.6],[130,4.43,4.44,4.46,4.47,4.48,4.53,4.56,4.63],[129,4.36,4.38,4.46,4.49,4.5,4.51,4.56,4.68],[128,4.44,4.44,4.46,4.49,4.5,4.51,4.55,4.6],
  [127,4.34,4.38,4.44,4.47,4.48,4.51,4.56,4.63],[126,4.31,4.34,4.46,4.47,4.48,4.5,4.53,4.62],[125,4.44,4.44,4.47,4.49,4.5,4.51,4.54,4.63],[124,4.34,4.36,4.45,4.47,4.48,4.51,4.56,4.62],
  [123,4.33,4.36,4.46,4.49,4.5,4.51,4.56,4.61],[122,4.4,4.42,4.44,4.47,4.48,4.52,4.58,4.6],[121,4.38,4.4,4.42,4.46,4.47,4.6,4.6,4.6],[120,4.34,4.36,4.44,4.47,4.49,4.51,4.54,4.59],
  [119,4.42,4.42,4.45,4.48,4.49,4.52,4.55,4.58],[118,4.33,4.36,4.44,4.49,4.5,4.52,4.55,4.58],[117,4.3,4.37,4.39,4.44,4.46,4.6,4.6,4.6],[116,4.44,4.44,4.45,4.48,4.49,4.52,4.55,4.6],
  [115,4.37,4.4,4.45,4.49,4.5,4.51,4.56,4.6],[114,4.36,4.38,4.46,4.48,4.49,4.51,4.56,4.6],[113,4.31,4.36,4.44,4.47,4.48,4.51,4.53,4.59],[112,4.42,4.42,4.46,4.49,4.5,4.51,4.52,4.59],
  [111,4.44,4.44,4.46,4.49,4.5,4.52,4.54,4.57],[110,4.33,4.38,4.41,4.46,4.48,4.58,4.58,4.6],[109,4.27,4.34,4.44,4.48,4.49,4.51,4.55,4.6],[108,4.42,4.43,4.46,4.47,4.48,4.52,4.55,4.62],
  [107,4.43,4.43,4.44,4.49,4.5,4.54,4.58,4.59],[106,4.36,4.38,4.4,4.46,4.47,4.6,4.6,4.6],[105,4.27,4.36,4.39,4.44,4.46,4.6,4.6,4.6],[104,4.46,4.46,4.46,4.48,4.49,4.51,4.54,4.58],
  [103,4.44,4.44,4.46,4.49,4.5,4.52,4.55,4.62],[102,4.33,4.33,4.44,4.47,4.48,4.51,4.55,4.58],[101,4.33,4.38,4.4,4.47,4.48,4.66,4.66,4.66],[100,4.42,4.42,4.46,4.49,4.5,4.51,4.56,4.58],
  [99,4.44,4.45,4.47,4.48,4.49,4.5,4.52,4.55],[98,4.33,4.33,4.39,4.46,4.47,4.62,4.62,4.62],[97,4.33,4.36,4.42,4.44,4.46,4.62,4.62,4.62],[96,4.44,4.44,4.46,4.48,4.49,4.51,4.53,4.57],
  [95,4.42,4.43,4.47,4.48,4.49,4.5,4.52,4.56],[94,4.33,4.37,4.47,4.49,4.5,4.51,4.56,4.62],[93,4.32,4.36,4.47,4.48,4.49,4.51,4.56,4.64],[92,4.4,4.4,4.47,4.49,4.5,4.51,4.56,4.6],
  [91,4.44,4.44,4.46,4.48,4.49,4.51,4.54,4.6],[90,4.4,4.4,4.41,4.46,4.47,4.6,4.6,4.6],[89,4.36,4.38,4.4,4.48,4.49,4.51,4.55,4.62],[88,4.42,4.42,4.45,4.47,4.48,4.53,4.57,4.59],
  [87,4.4,4.4,4.42,4.46,4.47,4.56,4.58,4.62],[86,4.32,4.36,4.4,4.47,4.48,4.6,4.6,4.62],[85,4.38,4.4,4.43,4.49,4.5,4.55,4.58,4.62],[84,4.44,4.44,4.46,4.48,4.49,4.51,4.56,4.65],
  [83,4.36,4.4,4.44,4.47,4.48,4.52,4.55,4.66],[82,4.31,4.36,4.39,4.44,4.46,4.58,4.58,4.6],[81,4.32,4.35,4.4,4.49,4.5,4.52,4.56,4.68],[80,4.45,4.46,4.47,4.48,4.49,4.51,4.54,4.6],
  [79,4.36,4.38,4.46,4.47,4.48,4.51,4.54,4.6],[78,4.33,4.37,4.43,4.47,4.49,4.52,4.55,4.6],[77,4.3,4.34,4.46,4.48,4.49,4.51,4.55,4.62],[76,4.42,4.42,4.45,4.49,4.5,4.51,4.55,4.6],
  [75,4.39,4.4,4.44,4.46,4.47,4.52,4.54,4.6],[74,4.36,4.39,4.42,4.47,4.48,4.51,4.56,4.62],[73,4.3,4.32,4.38,4.44,4.46,4.62,4.62,4.62],[72,4.44,4.44,4.45,4.47,4.48,4.51,4.55,4.58],
  [71,4.4,4.42,4.45,4.49,4.5,4.51,4.55,4.6],[70,4.36,4.38,4.4,4.47,4.48,4.54,4.56,4.62],[69,4.3,4.34,4.38,4.46,4.48,4.6,4.6,4.6],[68,4.4,4.42,4.45,4.48,4.49,4.51,4.55,4.62],
  [67,4.42,4.44,4.45,4.49,4.5,4.51,4.56,4.6],[66,4.36,4.38,4.46,4.48,4.49,4.51,4.55,4.6],[65,4.28,4.36,4.44,4.47,4.48,4.51,4.56,4.63],[64,4.4,4.42,4.46,4.49,4.5,4.51,4.53,4.56],
  [63,4.42,4.42,4.45,4.47,4.48,4.55,4.58,4.58],[62,4.34,4.37,4.42,4.46,4.48,4.56,4.6,4.6],[61,4.3,4.36,4.44,4.48,4.49,4.51,4.56,4.63],[60,4.42,4.42,4.45,4.48,4.49,4.52,4.55,4.6],
  [59,4.36,4.37,4.42,4.47,4.48,4.58,4.62,4.62],[58,4.36,4.38,4.41,4.49,4.5,4.58,4.6,4.6],[57,4.28,4.37,4.41,4.47,4.48,4.56,4.56,4.56],[56,4.44,4.44,4.45,4.47,4.48,4.51,4.53,4.61],
  [55,4.4,4.42,4.47,4.48,4.49,4.51,4.53,4.62],[54,4.37,4.4,4.47,4.49,4.5,4.51,4.56,4.64],[53,4.29,4.36,4.47,4.48,4.49,4.51,4.56,4.65],[52,4.41,4.42,4.47,4.49,4.5,4.51,4.56,4.62],
  [51,4.4,4.42,4.46,4.48,4.49,4.53,4.58,4.6],[50,4.34,4.37,4.47,4.49,4.5,4.51,4.55,4.6],[49,4.3,4.36,4.47,4.48,4.49,4.51,4.57,4.63],[48,4.44,4.44,4.45,4.48,4.49,4.51,4.54,4.6],
  [47,4.42,4.42,4.46,4.49,4.5,4.51,4.53,4.59],[46,4.36,4.38,4.46,4.48,4.49,4.51,4.55,4.6],[45,4.31,4.36,4.47,4.49,4.51,4.52,4.56,4.62],[44,4.43,4.43,4.45,4.47,4.48,4.51,4.55,4.61],
  [43,4.4,4.42,4.46,4.48,4.49,4.51,4.54,4.6],[42,4.36,4.38,4.44,4.49,4.5,4.51,4.54,4.6],[41,4.3,4.36,4.39,4.44,4.46,4.62,4.62,4.62],[40,4.42,4.42,4.45,4.47,4.48,4.53,4.56,4.6],
  [39,4.44,4.44,4.45,4.48,4.49,4.51,4.53,4.62],[38,4.34,4.38,4.4,4.46,4.48,4.65,4.65,4.65],[37,4.31,4.36,4.4,4.47,4.49,4.65,4.65,4.65],[36,4.43,4.43,4.46,4.48,4.49,4.51,4.55,4.65],
  [35,4.38,4.4,4.46,4.49,4.5,4.51,4.55,4.63],[34,4.36,4.38,4.44,4.47,4.48,4.51,4.52,4.58],[33,4.3,4.36,4.42,4.49,4.5,4.51,4.55,4.62],[32,4.42,4.42,4.46,4.47,4.48,4.53,4.58,4.6],
  [31,4.44,4.44,4.46,4.48,4.49,4.51,4.54,4.58],[30,4.35,4.38,4.44,4.47,4.48,4.52,4.55,4.6],[29,4.3,4.36,4.42,4.49,4.5,4.51,4.56,4.65],[28,4.45,4.45,4.46,4.48,4.49,4.52,4.55,4.6],
  [27,4.38,4.4,4.44,4.47,4.48,4.58,4.6,4.6],[26,4.34,4.36,4.42,4.49,4.5,4.51,4.54,4.6],[25,4.32,4.34,4.38,4.44,4.46,4.6,4.6,4.6],[24,4.44,4.44,4.47,4.48,4.49,4.51,4.55,4.62],
  [23,4.44,4.45,4.46,4.47,4.48,4.52,4.56,4.62],[22,4.39,4.41,4.45,4.49,4.5,4.54,4.56,4.62],[21,4.33,4.35,4.37,4.46,4.47,4.6,4.6,4.6],[20,4.44,4.44,4.47,4.48,4.49,4.5,4.54,4.54],
  [19,4.33,4.35,4.42,4.46,4.47,4.53,4.53,4.53],[18,4.36,4.39,4.44,4.49,4.5,4.51,4.53,4.6],[17,4.32,4.36,4.41,4.44,4.46,4.65,4.65,4.65],[16,4.34,4.36,4.43,4.47,4.48,4.6,4.6,4.6],
  [15,4.4,4.42,4.46,4.47,4.48,4.51,4.53,4.55],[14,4.35,4.36,4.44,4.46,4.48,4.51,4.54,4.58],[13,4.32,4.34,4.45,4.49,4.5,4.51,4.55,4.65],[12,4.4,4.42,4.46,4.47,4.48,4.5,4.52,4.6],
  [11,4.3,4.38,4.42,4.47,4.49,4.52,4.6,4.7],[10,4.44,4.44,4.46,4.46,4.47,4.65,4.65,4.65],[9,4.34,4.36,4.4,4.47,4.48,4.6,4.64,4.66],[8,4.4,4.4,4.47,4.5,4.51,4.52,4.6,4.7],
  [7,4.38,4.4,4.45,4.48,4.49,4.52,4.58,4.6],[6,4.42,4.42,4.42,4.44,4.45,4.65,4.65,4.65],[5,4.38,4.4,4.44,4.49,4.5,4.51,4.56,4.65],[4,4.44,4.44,4.46,4.48,4.49,4.52,4.56,4.58],
  [3,4.4,4.41,4.44,4.47,4.48,4.6,4.6,4.6],[2,4.44,4.44,4.44,4.46,4.47,4.62,4.62,4.62],[1,4.3,4.36,4.44,4.47,4.49,4.51,4.55,4.6],[0,4.44,4.44,4.47,4.48,4.49,4.51,4.53,4.62]
];

var options = { width: 1841, height: 693 },
    margin = { top: 60.5, right: 3, bottom: 61.3, left: 91.6 },
    lineWidth = 3.9;

var svg = d3.select("#chart").append("svg")
    .attr("width", options.width)
    .attr("height", options.height);

var xScale = d3.scaleLinear()
    .domain([0, 6.5])
    .range([margin.left, options.width - margin.right]);

var yScale = d3.scaleLinear()
    .domain([-1.05, 161.3])
    .range([options.height - margin.bottom, margin.top]);

// burst rows are split over the bands; painted under the band's own spans
var burstBlue = burstRows.map(function(r) { return [r[0], r[1], r[8]]; }),
    burstGreen = burstRows.map(function(r) { return [r[0], r[2], r[7]]; }),
    burstOrange = burstRows.map(function(r) { return [r[0], r[3], r[6]]; }),
    burstYellow = burstRows.map(function(r) { return [r[0], r[4], r[5]]; });

var layers = [
  { spans: blueSpans.concat(burstBlue), color: bandColors[0] },
  { spans: greenSpans.concat(burstGreen), color: bandColors[1] },
  { spans: orangeSpans.concat(burstOrange), color: bandColors[3] },
  { spans: yellowSpans.concat(burstYellow), color: bandColors[2] },
  { spans: redSpans, color: bandColors[4] }
];

var plot = svg.append("g").attr("class", "plot");

plot.append("g").selectAll("line")
    .data(dashedSpans)
  .enter().append("line")
    .attr("x1", function(d) { return xScale(d[1]); })
    .attr("x2", function(d) { return xScale(d[2]); })
    .attr("y1", function(d) { return yScale(d[0] + 0.5); })
    .attr("y2", function(d) { return yScale(d[0] + 0.5); })
    .attr("stroke", bandColors[0])
    .attr("stroke-width", lineWidth)
    .attr("stroke-dasharray", "2.2,0.9");

layers.forEach(function(layer) {
  plot.append("g").selectAll("line")
      .data(layer.spans)
    .enter().append("line")
      .attr("x1", function(d) { return xScale(d[1]); })
      .attr("x2", function(d) { return xScale(d[2]); })
      .attr("y1", function(d) { return yScale(d[0] + 0.5); })
      .attr("y2", function(d) { return yScale(d[0] + 0.5); })
      .attr("stroke", layer.color)
      .attr("stroke-width", lineWidth);
});

// axes
var xAxis = d3.axisBottom(xScale).tickValues(xTicks).tickFormat(d3.format("d")).tickSize(5).tickPadding(9),
    yAxis = d3.axisLeft(yScale).tickValues(yTicks).tickFormat(d3.format("d")).tickSize(5).tickPadding(6);

var gx = svg.append("g")
    .attr("transform", "translate(0," + (options.height - margin.bottom) + ")")
    .call(xAxis);

var gy = svg.append("g")
    .attr("transform", "translate(" + margin.left + ",0)")
    .call(yAxis);

gx.selectAll("text").style("font-size", "24px");
gy.selectAll("text").style("font-size", "24px");
gx.select(".domain").remove();
gy.select(".domain").remove();
gx.selectAll("line").attr("stroke", "#333");
gy.selectAll("line").attr("stroke", "#333");

svg.append("rect")
    .attr("x", margin.left)
    .attr("y", margin.top)
    .attr("width", options.width - margin.left - margin.right)
    .attr("height", options.height - margin.top - margin.bottom)
    .attr("fill", "none")
    .attr("stroke", "#333")
    .attr("stroke-width", 1.2);

svg.append("line")
    .attr("x1", margin.left)
    .attr("x2", options.width - margin.right)
    .attr("y1", options.height - margin.bottom)
    .attr("y2", options.height - margin.bottom)
    .attr("stroke", "#8a8a8a")
    .attr("stroke-width", 2);

svg.append("text")
    .attr("x", 964)
    .attr("y", 688)
    .attr("text-anchor", "middle")
    .style("font-size", "24px")
    .text("Time in seconds");

svg.append("text")
    .attr("transform", "translate(29,349) rotate(-90)")
    .attr("text-anchor", "middle")
    .style("font-size", "24px")
    .text("Core");

// legend flows along the top
var legendX = 108;
legendLabels.forEach(function(label, i) {
  svg.append("line")
      .attr("x1", legendX)
      .attr("x2", legendX + 47)
      .attr("y1", 16)
      .attr("y2", 16)
      .attr("stroke", bandColors[i])
      .attr("stroke-width", 2);
  var t = svg.append("text")
      .attr("x", legendX + 66)
      .attr("y", 24.5)
      .style("font-size", "22.5px")
      .text(label);
  legendX += 66 + t.node().getComputedTextLength() + 44;
});
</script>
</body>
</html>
